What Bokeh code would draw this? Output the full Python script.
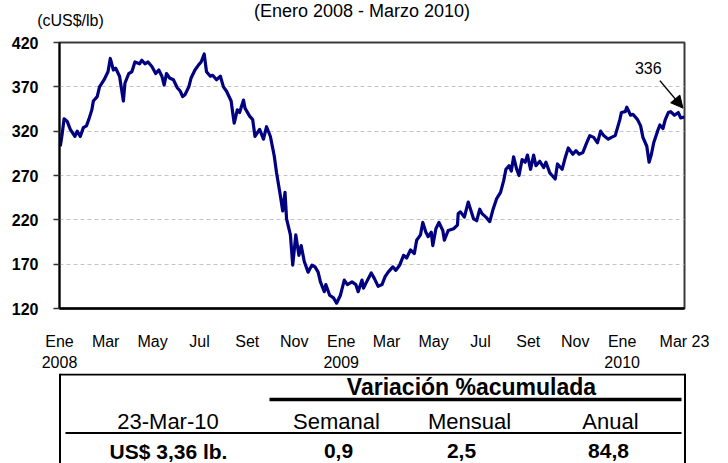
import pandas as pd
from bokeh.plotting import figure
from bokeh.models import (FixedTicker, LinearAxis, Range1d, Label, Arrow,
                          NormalHead, ColumnDataSource)
from bokeh.layouts import column
from bokeh.embed import file_html
from bokeh.resources import INLINE
from bokeh.core.properties import value

# ---------------- data ----------------
dates = [
    "2008-01-02", "2008-01-04", "2008-01-07", "2008-01-11", "2008-01-15", "2008-01-21",
    "2008-01-24", "2008-01-28", "2008-02-01", "2008-02-05", "2008-02-08", "2008-02-12",
    "2008-02-14", "2008-02-19", "2008-02-22", "2008-02-28", "2008-03-04", "2008-03-07",
    "2008-03-11", "2008-03-14", "2008-03-19", "2008-03-24", "2008-03-26", "2008-03-31",
    "2008-04-04", "2008-04-08", "2008-04-14", "2008-04-17", "2008-04-21", "2008-04-25",
    "2008-04-30", "2008-05-05", "2008-05-09", "2008-05-13", "2008-05-16", "2008-05-19",
    "2008-05-23", "2008-05-28", "2008-06-02", "2008-06-06", "2008-06-09", "2008-06-12",
    "2008-06-17", "2008-06-20", "2008-06-25", "2008-06-30", "2008-07-03", "2008-07-07",
    "2008-07-10", "2008-07-15", "2008-07-18", "2008-07-23", "2008-07-28", "2008-08-01",
    "2008-08-05", "2008-08-11", "2008-08-13", "2008-08-15", "2008-08-19", "2008-08-22",
    "2008-08-27", "2008-08-29", "2008-09-04", "2008-09-08", "2008-09-11", "2008-09-17",
    "2008-09-22", "2008-09-26", "2008-10-01", "2008-10-06", "2008-10-09", "2008-10-14",
    "2008-10-17", "2008-10-20", "2008-10-22", "2008-10-27", "2008-10-30", "2008-11-03",
    "2008-11-07", "2008-11-10", "2008-11-14", "2008-11-19", "2008-11-24", "2008-11-28",
    "2008-12-02", "2008-12-05", "2008-12-10", "2008-12-12", "2008-12-17", "2008-12-22",
    "2008-12-26", "2008-12-31",
    "2009-01-05", "2009-01-09", "2009-01-15", "2009-01-20", "2009-01-23", "2009-01-28",
    "2009-01-30", "2009-02-03", "2009-02-09", "2009-02-13", "2009-02-18", "2009-02-23",
    "2009-02-27", "2009-03-03", "2009-03-09", "2009-03-13", "2009-03-18", "2009-03-23",
    "2009-03-27", "2009-04-01", "2009-04-06", "2009-04-09", "2009-04-14", "2009-04-17",
    "2009-04-21", "2009-04-24", "2009-04-28", "2009-04-30", "2009-05-04", "2009-05-08",
    "2009-05-13", "2009-05-15", "2009-05-20", "2009-05-27", "2009-06-01", "2009-06-02",
    "2009-06-05", "2009-06-10", "2009-06-15", "2009-06-18", "2009-06-22", "2009-06-26",
    "2009-06-30", "2009-07-03", "2009-07-08", "2009-07-13", "2009-07-17", "2009-07-22",
    "2009-07-27", "2009-07-31", "2009-08-03", "2009-08-07", "2009-08-10", "2009-08-13",
    "2009-08-17", "2009-08-20", "2009-08-24", "2009-08-28", "2009-08-31", "2009-09-04",
    "2009-09-08", "2009-09-11", "2009-09-16", "2009-09-21", "2009-09-24", "2009-09-29",
    "2009-10-02", "2009-10-06", "2009-10-09", "2009-10-15", "2009-10-19", "2009-10-23",
    "2009-10-29", "2009-11-02", "2009-11-06", "2009-11-11", "2009-11-16", "2009-11-20",
    "2009-11-25", "2009-11-30", "2009-12-04", "2009-12-08", "2009-12-14", "2009-12-18",
    "2009-12-23", "2009-12-29", "2009-12-31",
    "2010-01-05", "2010-01-07", "2010-01-12", "2010-01-15", "2010-01-21", "2010-01-25",
    "2010-01-28", "2010-02-02", "2010-02-05", "2010-02-08", "2010-02-11", "2010-02-16",
    "2010-02-19", "2010-02-23", "2010-02-26", "2010-03-02", "2010-03-05", "2010-03-10",
    "2010-03-15", "2010-03-18", "2010-03-23",
]
prices = [
    303, 314, 334, 331, 322, 314,
    320, 314, 324, 326, 333, 344,
    354, 359, 370, 378, 387, 402,
    389, 391, 382, 354, 374, 385,
    387, 398, 396, 400, 396, 398,
    393, 385, 389, 382, 372, 385,
    380, 378, 369, 365, 359, 361,
    370, 380, 389, 395, 398, 407,
    387, 382, 383, 378, 382, 370,
    365, 354, 341, 329, 344, 341,
    355, 346, 337, 333, 314, 322,
    311, 325, 314, 292, 273, 247,
    230, 251, 221, 203, 169, 203,
    180, 191, 173, 161, 169, 167,
    161, 150, 139, 147, 135, 132,
    126, 135,
    152, 147, 150, 147, 139, 152,
    143, 150, 160, 154, 145, 147,
    156, 161, 167, 163, 169, 180,
    177, 186, 182, 197, 203, 217,
    206, 201, 206, 191, 210, 217,
    208, 197, 208, 210, 214, 227,
    229, 223, 240, 232, 221, 219,
    232, 227, 223, 218, 231, 244,
    251, 264, 277, 281, 275, 291,
    277, 270, 288, 285, 293, 277,
    293, 281, 286, 279, 285, 273,
    270, 266, 283, 277, 290, 301,
    294, 298, 294, 296, 307, 315,
    313, 307, 320, 315, 311, 313,
    315, 333, 341,
    342, 347, 338, 339, 333, 326,
    313, 303, 285, 294, 307, 320,
    327, 323, 333, 341, 342, 338,
    341, 335, 336,
]

month_ticks = ["2008-01-01", "2008-03-01", "2008-05-01", "2008-07-01", "2008-09-01",
               "2008-11-01", "2009-01-01", "2009-03-01", "2009-05-01", "2009-07-01",
               "2009-09-01", "2009-11-01", "2010-01-01", "2010-03-23"]
month_labels = ["Ene\n2008", "Mar", "May", "Jul", "Set", "Nov", "Ene\n2009", "Mar",
                "May", "Jul", "Set", "Nov", "Ene\n2010", "Mar 23"]
y_ticks = [120, 170, 220, 270, 320, 370, 420]

title_text = "(Enero 2008 - Marzo  2010)"
unit_text = "(cUS$/lb)"
last_value = 336

table_date = "23-Mar-10"
table_price = "US$ 3,36 lb."
var_header = "Variación %acumulada"
var_cols = ["Semanal", "Mensual", "Anual"]
var_vals = ["0,9", "2,5", "84,8"]

# ---------------- helpers ----------------
FONT = "Liberation Sans"


def ms(s):
    return int(pd.Timestamp(s).value // 10**6)


month_ms = [ms(d) for d in month_ticks]

W = 728
H0 = 34      # header strip (page y 0-34)
H1 = 339     # chart (page y 34-373)
T0 = H0 + H1
H2 = 463 - T0  # table (page y 373-463)


def blank(height, y_top):
    f = figure(width=W, height=height, output_backend="svg", toolbar_location=None,
               x_range=Range1d(0, W), y_range=Range1d(y_top + height, y_top),
               x_axis_location=None, y_axis_location=None, min_border=0,
               frame_align=False)
    f.outline_line_color = None
    f.xgrid.visible = False
    f.ygrid.visible = False
    return f


# ---------------- header ----------------
h = blank(H0, 0)
h.text(x=[364], y=[10.5], text=[title_text], text_align="center",
       text_baseline="middle", text_font=value(FONT), text_font_size="18px",
       text_color="black")
h.text(x=[70], y=[19.5], text=[unit_text], text_align="center",
       text_baseline="middle", text_font=value(FONT), text_font_size="16px",
       text_color="black")

# ---------------- chart ----------------
p = figure(width=W, height=H1, output_backend="svg", toolbar_location=None,
           x_range=Range1d(ms("2008-01-01"), ms("2010-03-23")),
           y_range=Range1d(120, 420),
           x_axis_location=None, y_axis_location=None,
           min_border_left=59, min_border_right=44, min_border_top=8,
           min_border_bottom=64, frame_align=False)
p.outline_line_color = "#3a3a3a"
p.outline_line_width = 2
p.xgrid.grid_line_color = None
p.ygrid.ticker = FixedTicker(ticks=y_ticks[1:-1])
p.ygrid.grid_line_color = "#c4c4c4"
p.ygrid.grid_line_dash = "4 3"
p.ygrid.grid_line_width = 1

yax = LinearAxis(ticker=FixedTicker(ticks=y_ticks),
                 major_label_text_font=FONT, major_label_text_font_style="bold",
                 major_label_text_font_size="16px", major_label_text_color="black",
                 axis_line_color="black", axis_line_width=2,
                 major_tick_out=6, major_tick_in=0, major_tick_line_color="#333333",
                 major_tick_line_width=1.5,
                 minor_tick_out=0, minor_tick_in=0, major_label_standoff=15)
p.add_layout(yax, "left")

xax = LinearAxis(ticker=FixedTicker(ticks=month_ms),
                 major_label_overrides=dict(zip(month_ms, month_labels)),
                 major_label_text_font=FONT, major_label_text_font_size="16px",
                 major_label_text_color="black", major_label_text_line_height=1.25,
                 axis_line_color="black", axis_line_width=2.5,
                 major_tick_out=0, major_tick_in=0, minor_tick_out=0, minor_tick_in=0,
                 major_label_standoff=24)
p.add_layout(xax, "below")

src = ColumnDataSource(dict(date=pd.to_datetime(dates), price=prices))
p.line("date", "price", source=src, line_color="#000080", line_width=3.2,
       line_join="round")

p.add_layout(Arrow(end=NormalHead(size=12, fill_color="black", line_color="black"),
                   x_start=ms("2010-02-19"), y_start=377,
                   x_end=ms("2010-03-21"), y_end=346,
                   line_color="black", line_width=1.5))
p.add_layout(Label(x=ms("2010-02-04"), y=391, text=str(last_value),
                   text_align="center", text_baseline="middle",
                   text_font=FONT, text_font_size="16px", text_color="black"))

# ---------------- table ----------------
t = blank(H2, T0)
t.segment(x0=[59.5, 59.5, 684.5], y0=[T0 + 1, T0, T0], x1=[684.5, 59.5, 684.5],
          y1=[T0 + 1, 463, 463], line_color="black", line_width=2)
t.segment(x0=[269], y0=[399], x1=[681], y1=[399], line_color="black", line_width=3.5)
t.segment(x0=[65], y0=[432.5], x1=[681], y1=[432.5], line_color="black", line_width=2)

t.text(x=[471], y=[386], text=[var_header], text_align="center", text_baseline="middle",
       text_font=value(FONT), text_font_size="23px", text_font_style="bold",
       text_color="black")
t.text(x=[167.5, 336, 469, 610], y=[421] * 4, text=[table_date] + var_cols,
       text_align="center", text_baseline="middle",
       text_font=value(FONT), text_font_size="22px", text_color="black")
t.text(x=[168, 338, 461, 608], y=[450.5] * 4, text=[table_price] + var_vals,
       text_align="center", text_baseline="middle",
       text_font=value(FONT), text_font_size="21px", text_font_style="bold",
       text_color="black")

layout = column(h, p, t, spacing=0)
open("out.html", "w").write(file_html(layout, INLINE))
